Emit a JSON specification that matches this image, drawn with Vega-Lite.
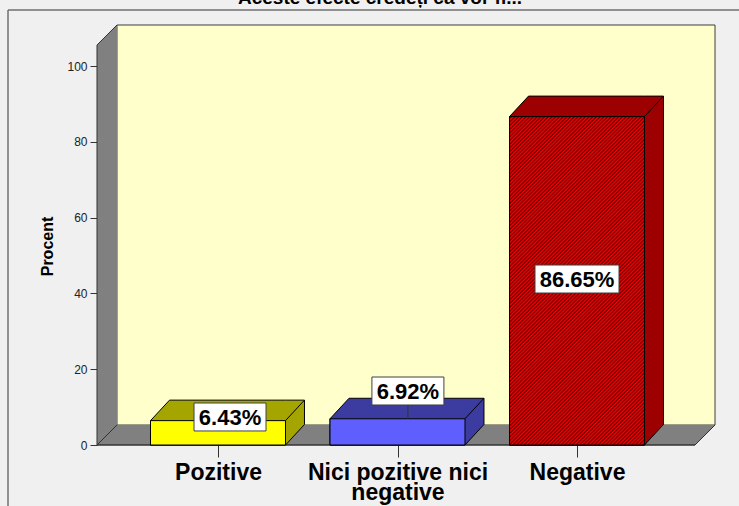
{
  "$schema": "https://vega.github.io/schema/vega-lite/v6.json",
  "width": 618,
  "height": 420,
  "autosize": "none",
  "padding": {"left": 97, "top": 25, "right": 30, "bottom": 70},
  "background": "#f0f0f0",
  "config": {"view": {"stroke": null}, "font": "Liberation Sans"},
  "title": {"text": "Aceste efecte credeți că vor fi...", "font": "Liberation Sans", "fontSize": 19, "fontWeight": "bold", "color": "#000000", "anchor": "middle", "frame": "bounds", "baseline": "alphabetic", "offset": -1, "dy": 13},
  "datasets": {
    "d": [
      {"cat": "Pozitive", "pct": 6.43},
      {"cat": "Nici pozitive nici negative", "pct": 6.92},
      {"cat": "Negative", "pct": 86.65}
    ]
  },
  "data": {"name": "d"},
  "transform": [
    {"window": [{"op": "row_number", "as": "rn"}]},
    {"calculate": "datum.rn - 1", "as": "idx"},
    {"calculate": "datum.idx - 0.376", "as": "fx1"},
    {"calculate": "datum.idx + 0.376", "as": "fx2"},
    {"calculate": "datum.idx + 0.4818", "as": "ex2"},
    {"calculate": "datum.pct + 5.41", "as": "ey2"},
    {"calculate": "format(datum.pct, '.2f') + '%'", "as": "lab"},
    {"calculate": "datum.idx + [0.067, 0.058, 0][datum.idx]", "as": "lx"},
    {"calculate": "[7.39, 14.25, 43.8][datum.idx]", "as": "ly"},
    {"calculate": "(length(datum.lab) * 6 + 6) / 179.5", "as": "hw"},
    {"calculate": "datum.lx - datum.hw", "as": "bx1"},
    {"calculate": "datum.lx + datum.hw", "as": "bx2"},
    {"calculate": "datum.ly - 3.69", "as": "by1"},
    {"calculate": "datum.ly + 3.69", "as": "by2"}
  ],
  "layer": [
    {
      "data": {"values": [{}]},
      "mark": {"type": "rule", "color": "#707070", "strokeWidth": 1.5},
      "encoding": {
        "x": {
          "datum": -1.16992, "type": "quantitative",
          "scale": {"domain": [-0.6741, 2.7688], "nice": false, "zero": false},
          "axis": {
            "values": [0, 1, 2], "domain": false, "grid": false,
            "tickSize": 12, "tickColor": "#333333", "tickWidth": 1,
            "labelExpr": "datum.value == 0 ? 'Pozitive' : datum.value == 1 ? ['Nici pozitive nici', 'negative'] : 'Negative'",
            "labelFont": "Liberation Sans", "labelFontSize": 23, "labelFontWeight": "bold", "labelColor": "#000000",
            "labelPadding": 4, "labelLineHeight": 20, "labelBaseline": "top", "labelOverlap": false, "labelFlush": false, "labelBound": false, "labelLimit": 0,
            "title": null
          }
        },
        "y": {
          "datum": 114.776, "type": "quantitative",
          "scale": {"domain": [0, 110.82], "nice": false, "zero": false},
          "axis": {
            "values": [0, 20, 40, 60, 80, 100], "domain": false, "grid": false,
            "tickSize": 7, "tickColor": "#333333", "tickWidth": 1,
            "labelFont": "Liberation Sans", "labelFontSize": 12, "labelColor": "#222222", "labelPadding": 3, "labelFlush": false, "labelBound": false,
            "title": "Procent", "titleFont": "Liberation Sans", "titleFontSize": 16, "titleFontWeight": "bold", "titleColor": "#000000",
            "titleX": -50, "titleY": 221, "titleAngle": -90, "titleAlign": "center", "titleBaseline": "middle"
          }
        },
        "y2": {"datum": -17.15}
      }
    },
    {
      "data": {"values": [{}]},
      "mark": {"type": "rule", "color": "#707070", "strokeWidth": 1.5},
      "encoding": {
        "x": {"datum": -1.16992, "type": "quantitative"},
        "x2": {"datum": 2.97493},
        "y": {"datum": 114.776, "type": "quantitative"}
      }
    },
    {
      "data": {"values": [{}]},
      "mark": {"type": "rect", "fill": "#ffffcc", "stroke": "#3c3c3c", "strokeWidth": 1},
      "encoding": {
        "x": {"datum": -0.5627, "type": "quantitative"},
        "x2": {"datum": 2.7688},
        "y": {"datum": 5.277, "type": "quantitative"},
        "y2": {"datum": 110.82}
      }
    },
    {
      "transform": [
        {"filter": "datum.idx <= 1"},
        {"calculate": "-0.6741 + datum.idx * 0.1114", "as": "wx"},
        {"calculate": "0", "as": "wy"},
        {"calculate": "105.54 + datum.idx * 5.277", "as": "wy2"}
      ],
      "mark": {"type": "area", "orient": "vertical", "fill": "#808080"},
      "encoding": {
        "x": {"field": "wx", "type": "quantitative"},
        "y": {"field": "wy", "type": "quantitative"},
        "y2": {"field": "wy2"}
      }
    },
    {
      "transform": [
        {"calculate": "[-0.5627, 2.6574, 2.7688][datum.idx]", "as": "gx"},
        {"calculate": "datum.idx == 2 ? 5.277 : 0", "as": "gy"},
        {"calculate": "5.277", "as": "gy2"}
      ],
      "mark": {"type": "area", "orient": "vertical", "fill": "#808080"},
      "encoding": {
        "x": {"field": "gx", "type": "quantitative"},
        "y": {"field": "gy", "type": "quantitative"},
        "y2": {"field": "gy2"}
      }
    },
    {
      "data": {"values": [{}]},
      "mark": {"type": "rule", "color": "#333333", "strokeWidth": 1},
      "encoding": {
        "x": {"datum": -0.6741, "type": "quantitative"},
        "y": {"datum": 0, "type": "quantitative"},
        "y2": {"datum": 105.54}
      }
    },
    {
      "data": {"values": [{}]},
      "mark": {"type": "rule", "color": "#333333", "strokeWidth": 1},
      "encoding": {
        "x": {"datum": -0.6741, "type": "quantitative"},
        "x2": {"datum": -0.5627},
        "y": {"datum": 105.54, "type": "quantitative"},
        "y2": {"datum": 110.82}
      }
    },
    {
      "data": {"values": [{}]},
      "mark": {"type": "rule", "color": "#333333", "strokeWidth": 1},
      "encoding": {
        "x": {"datum": -0.6741, "type": "quantitative"},
        "x2": {"datum": -0.5627},
        "y": {"datum": 0, "type": "quantitative"},
        "y2": {"datum": 5.277}
      }
    },
    {
      "data": {"values": [{}]},
      "mark": {"type": "rule", "color": "#333333", "strokeWidth": 1.5},
      "encoding": {
        "x": {"datum": -0.6741, "type": "quantitative"},
        "x2": {"datum": 2.6574},
        "y": {"datum": 0, "type": "quantitative"}
      }
    },
    {
      "data": {"values": [{}]},
      "mark": {"type": "rule", "color": "#333333", "strokeWidth": 1},
      "encoding": {
        "x": {"datum": 2.6574, "type": "quantitative"},
        "x2": {"datum": 2.7688},
        "y": {"datum": 0, "type": "quantitative"},
        "y2": {"datum": 5.277}
      }
    },
    {
      "transform": [
        {"calculate": "[datum.idx - 0.376, datum.idx - 0.2702, datum.idx + 0.376, datum.idx + 0.4818]", "as": "hx"},
        {"calculate": "[0, 0, 0, 5.41]", "as": "hy"},
        {"calculate": "[datum.pct, datum.pct + 5.41, datum.pct + 5.41, datum.pct + 5.41]", "as": "hy2"},
        {"flatten": ["hx", "hy", "hy2"]}
      ],
      "mark": {"type": "area", "orient": "vertical", "stroke": "#000000", "strokeWidth": 1, "fillOpacity": 1},
      "encoding": {
        "x": {"field": "hx", "type": "quantitative"},
        "y": {"field": "hy", "type": "quantitative"},
        "y2": {"field": "hy2"},
        "color": {"field": "cat", "type": "nominal", "scale": {"domain": ["Pozitive", "Nici pozitive nici negative", "Negative"], "range": ["#a5a500", "#3c3ca0", "#9c0000"]}, "legend": null}
      }
    },
    {
      "mark": {"type": "rect", "stroke": "#000000", "strokeWidth": 1},
      "encoding": {
        "x": {"field": "fx1", "type": "quantitative"},
        "x2": {"field": "fx2"},
        "y": {"field": "pct", "type": "quantitative"},
        "y2": {"datum": 0},
        "fill": {"field": "cat", "type": "nominal", "scale": {"domain": ["Pozitive", "Nici pozitive nici negative", "Negative"], "range": ["#ffff00", "#5f5fff", "#ff0000"]}, "legend": null}
      }
    },
    {
      "transform": [{"filter": "datum.idx == 2"}],
      "mark": {
        "type": "rect", "stroke": "#000000", "strokeWidth": 1,
        "fill": {"gradient": "linear", "x1": 0, "y1": 0, "x2": 0.496, "y2": 1.207, "stops": [
          {"offset":0,"color":"#f00"},{"offset":0.004,"color":"#600"},{"offset":0.008,"color":"#f00"},{"offset":0.012,"color":"#600"},{"offset":0.016,"color":"#f00"},{"offset":0.02,"color":"#600"},{"offset":0.024,"color":"#f00"},{"offset":0.028,"color":"#600"},{"offset":0.032,"color":"#f00"},{"offset":0.036,"color":"#600"},
          {"offset":0.04,"color":"#f00"},{"offset":0.044,"color":"#600"},{"offset":0.048,"color":"#f00"},{"offset":0.052,"color":"#600"},{"offset":0.056,"color":"#f00"},{"offset":0.06,"color":"#600"},{"offset":0.064,"color":"#f00"},{"offset":0.068,"color":"#600"},{"offset":0.072,"color":"#f00"},{"offset":0.076,"color":"#600"},
          {"offset":0.08,"color":"#f00"},{"offset":0.084,"color":"#600"},{"offset":0.088,"color":"#f00"},{"offset":0.092,"color":"#600"},{"offset":0.096,"color":"#f00"},{"offset":0.1,"color":"#600"},{"offset":0.104,"color":"#f00"},{"offset":0.108,"color":"#600"},{"offset":0.112,"color":"#f00"},{"offset":0.116,"color":"#600"},
          {"offset":0.12,"color":"#f00"},{"offset":0.124,"color":"#600"},{"offset":0.128,"color":"#f00"},{"offset":0.132,"color":"#600"},{"offset":0.136,"color":"#f00"},{"offset":0.14,"color":"#600"},{"offset":0.144,"color":"#f00"},{"offset":0.148,"color":"#600"},{"offset":0.152,"color":"#f00"},{"offset":0.156,"color":"#600"},
          {"offset":0.16,"color":"#f00"},{"offset":0.164,"color":"#600"},{"offset":0.168,"color":"#f00"},{"offset":0.172,"color":"#600"},{"offset":0.176,"color":"#f00"},{"offset":0.18,"color":"#600"},{"offset":0.184,"color":"#f00"},{"offset":0.188,"color":"#600"},{"offset":0.192,"color":"#f00"},{"offset":0.196,"color":"#600"},
          {"offset":0.2,"color":"#f00"},{"offset":0.204,"color":"#600"},{"offset":0.208,"color":"#f00"},{"offset":0.212,"color":"#600"},{"offset":0.216,"color":"#f00"},{"offset":0.22,"color":"#600"},{"offset":0.224,"color":"#f00"},{"offset":0.228,"color":"#600"},{"offset":0.232,"color":"#f00"},{"offset":0.236,"color":"#600"},
          {"offset":0.24,"color":"#f00"},{"offset":0.244,"color":"#600"},{"offset":0.248,"color":"#f00"},{"offset":0.252,"color":"#600"},{"offset":0.256,"color":"#f00"},{"offset":0.26,"color":"#600"},{"offset":0.264,"color":"#f00"},{"offset":0.268,"color":"#600"},{"offset":0.272,"color":"#f00"},{"offset":0.276,"color":"#600"},
          {"offset":0.28,"color":"#f00"},{"offset":0.284,"color":"#600"},{"offset":0.288,"color":"#f00"},{"offset":0.292,"color":"#600"},{"offset":0.296,"color":"#f00"},{"offset":0.3,"color":"#600"},{"offset":0.304,"color":"#f00"},{"offset":0.308,"color":"#600"},{"offset":0.312,"color":"#f00"},{"offset":0.316,"color":"#600"},
          {"offset":0.32,"color":"#f00"},{"offset":0.324,"color":"#600"},{"offset":0.328,"color":"#f00"},{"offset":0.332,"color":"#600"},{"offset":0.336,"color":"#f00"},{"offset":0.34,"color":"#600"},{"offset":0.344,"color":"#f00"},{"offset":0.348,"color":"#600"},{"offset":0.352,"color":"#f00"},{"offset":0.356,"color":"#600"},
          {"offset":0.36,"color":"#f00"},{"offset":0.364,"color":"#600"},{"offset":0.368,"color":"#f00"},{"offset":0.372,"color":"#600"},{"offset":0.376,"color":"#f00"},{"offset":0.38,"color":"#600"},{"offset":0.384,"color":"#f00"},{"offset":0.388,"color":"#600"},{"offset":0.392,"color":"#f00"},{"offset":0.396,"color":"#600"},
          {"offset":0.4,"color":"#f00"},{"offset":0.404,"color":"#600"},{"offset":0.408,"color":"#f00"},{"offset":0.412,"color":"#600"},{"offset":0.416,"color":"#f00"},{"offset":0.42,"color":"#600"},{"offset":0.424,"color":"#f00"},{"offset":0.428,"color":"#600"},{"offset":0.432,"color":"#f00"},{"offset":0.436,"color":"#600"},
          {"offset":0.44,"color":"#f00"},{"offset":0.444,"color":"#600"},{"offset":0.448,"color":"#f00"},{"offset":0.452,"color":"#600"},{"offset":0.456,"color":"#f00"},{"offset":0.46,"color":"#600"},{"offset":0.464,"color":"#f00"},{"offset":0.468,"color":"#600"},{"offset":0.472,"color":"#f00"},{"offset":0.476,"color":"#600"},
          {"offset":0.48,"color":"#f00"},{"offset":0.484,"color":"#600"},{"offset":0.488,"color":"#f00"},{"offset":0.492,"color":"#600"},{"offset":0.496,"color":"#f00"},{"offset":0.5,"color":"#600"},{"offset":0.504,"color":"#f00"},{"offset":0.508,"color":"#600"},{"offset":0.512,"color":"#f00"},{"offset":0.516,"color":"#600"},
          {"offset":0.52,"color":"#f00"},{"offset":0.524,"color":"#600"},{"offset":0.528,"color":"#f00"},{"offset":0.532,"color":"#600"},{"offset":0.536,"color":"#f00"},{"offset":0.54,"color":"#600"},{"offset":0.544,"color":"#f00"},{"offset":0.548,"color":"#600"},{"offset":0.552,"color":"#f00"},{"offset":0.556,"color":"#600"},
          {"offset":0.56,"color":"#f00"},{"offset":0.564,"color":"#600"},{"offset":0.568,"color":"#f00"},{"offset":0.572,"color":"#600"},{"offset":0.576,"color":"#f00"},{"offset":0.58,"color":"#600"},{"offset":0.584,"color":"#f00"},{"offset":0.588,"color":"#600"},{"offset":0.592,"color":"#f00"},{"offset":0.596,"color":"#600"},
          {"offset":0.6,"color":"#f00"},{"offset":0.604,"color":"#600"},{"offset":0.608,"color":"#f00"},{"offset":0.612,"color":"#600"},{"offset":0.616,"color":"#f00"},{"offset":0.62,"color":"#600"},{"offset":0.624,"color":"#f00"},{"offset":0.628,"color":"#600"},{"offset":0.632,"color":"#f00"},{"offset":0.636,"color":"#600"},
          {"offset":0.64,"color":"#f00"},{"offset":0.644,"color":"#600"},{"offset":0.648,"color":"#f00"},{"offset":0.652,"color":"#600"},{"offset":0.656,"color":"#f00"},{"offset":0.66,"color":"#600"},{"offset":0.664,"color":"#f00"},{"offset":0.668,"color":"#600"},{"offset":0.672,"color":"#f00"},{"offset":0.676,"color":"#600"},
          {"offset":0.68,"color":"#f00"},{"offset":0.684,"color":"#600"},{"offset":0.688,"color":"#f00"},{"offset":0.692,"color":"#600"},{"offset":0.696,"color":"#f00"},{"offset":0.7,"color":"#600"},{"offset":0.704,"color":"#f00"},{"offset":0.708,"color":"#600"},{"offset":0.712,"color":"#f00"},{"offset":0.716,"color":"#600"},
          {"offset":0.72,"color":"#f00"},{"offset":0.724,"color":"#600"},{"offset":0.728,"color":"#f00"},{"offset":0.732,"color":"#600"},{"offset":0.736,"color":"#f00"},{"offset":0.74,"color":"#600"},{"offset":0.744,"color":"#f00"},{"offset":0.748,"color":"#600"},{"offset":0.752,"color":"#f00"},{"offset":0.756,"color":"#600"},
          {"offset":0.76,"color":"#f00"},{"offset":0.764,"color":"#600"},{"offset":0.768,"color":"#f00"},{"offset":0.772,"color":"#600"},{"offset":0.776,"color":"#f00"},{"offset":0.78,"color":"#600"},{"offset":0.784,"color":"#f00"},{"offset":0.788,"color":"#600"},{"offset":0.792,"color":"#f00"},{"offset":0.796,"color":"#600"},
          {"offset":0.8,"color":"#f00"},{"offset":0.804,"color":"#600"},{"offset":0.808,"color":"#f00"},{"offset":0.812,"color":"#600"},{"offset":0.816,"color":"#f00"},{"offset":0.82,"color":"#600"},{"offset":0.824,"color":"#f00"},{"offset":0.828,"color":"#600"},{"offset":0.832,"color":"#f00"},{"offset":0.836,"color":"#600"},
          {"offset":0.84,"color":"#f00"},{"offset":0.844,"color":"#600"},{"offset":0.848,"color":"#f00"},{"offset":0.852,"color":"#600"},{"offset":0.856,"color":"#f00"},{"offset":0.86,"color":"#600"},{"offset":0.864,"color":"#f00"},{"offset":0.868,"color":"#600"},{"offset":0.872,"color":"#f00"},{"offset":0.876,"color":"#600"},
          {"offset":0.88,"color":"#f00"},{"offset":0.884,"color":"#600"},{"offset":0.888,"color":"#f00"},{"offset":0.892,"color":"#600"},{"offset":0.896,"color":"#f00"},{"offset":0.9,"color":"#600"},{"offset":0.904,"color":"#f00"},{"offset":0.908,"color":"#600"},{"offset":0.912,"color":"#f00"},{"offset":0.916,"color":"#600"},
          {"offset":0.92,"color":"#f00"},{"offset":0.924,"color":"#600"},{"offset":0.928,"color":"#f00"},{"offset":0.932,"color":"#600"},{"offset":0.936,"color":"#f00"},{"offset":0.94,"color":"#600"},{"offset":0.944,"color":"#f00"},{"offset":0.948,"color":"#600"},{"offset":0.952,"color":"#f00"},{"offset":0.956,"color":"#600"},
          {"offset":0.96,"color":"#f00"},{"offset":0.964,"color":"#600"},{"offset":0.968,"color":"#f00"},{"offset":0.972,"color":"#600"},{"offset":0.976,"color":"#f00"},{"offset":0.98,"color":"#600"},{"offset":0.984,"color":"#f00"},{"offset":0.988,"color":"#600"},{"offset":0.992,"color":"#f00"},{"offset":0.996,"color":"#600"},
          {"offset":1,"color":"#f00"}
        ]}
      },
      "encoding": {
        "x": {"field": "fx1", "type": "quantitative"},
        "x2": {"field": "fx2"},
        "y": {"field": "pct", "type": "quantitative"},
        "y2": {"datum": 0}
      }
    },
    {
      "mark": {"type": "rule", "color": "#000000", "strokeWidth": 1},
      "encoding": {
        "x": {"field": "fx2", "type": "quantitative"},
        "x2": {"field": "ex2"},
        "y": {"field": "pct", "type": "quantitative"},
        "y2": {"field": "ey2"}
      }
    },
    {
      "mark": {"type": "rect", "fill": "#ffffff", "stroke": "#404040", "strokeWidth": 1},
      "encoding": {
        "x": {"field": "bx1", "type": "quantitative"},
        "x2": {"field": "bx2"},
        "y": {"field": "by1", "type": "quantitative"},
        "y2": {"field": "by2"}
      }
    },
    {
      "transform": [{"filter": "datum.ly - datum.pct > 5"}],
      "mark": {"type": "rule", "color": "#333333", "strokeWidth": 1},
      "encoding": {
        "x": {"field": "lx", "type": "quantitative"},
        "y": {"field": "pct", "type": "quantitative"},
        "y2": {"field": "by1"}
      }
    },
    {
      "mark": {"type": "text", "font": "Liberation Sans", "fontSize": 22, "fontWeight": "bold", "color": "#000000", "align": "center", "baseline": "middle", "dy": 1},
      "encoding": {
        "x": {"field": "lx", "type": "quantitative"},
        "y": {"field": "ly", "type": "quantitative"},
        "text": {"field": "lab"}
      }
    }
  ]
}
